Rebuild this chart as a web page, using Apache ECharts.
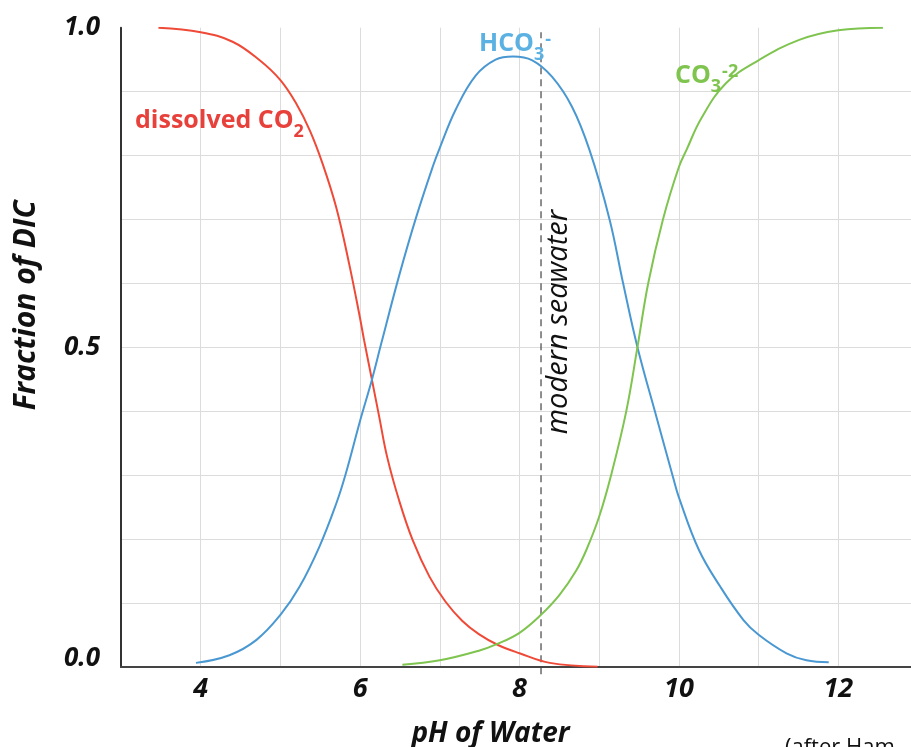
<!DOCTYPE html>
<html>
<head>
<meta charset="utf-8">
<script src="https://cdn.jsdelivr.net/npm/echarts@6/dist/echarts.min.js"></script>
<style>
html,body{margin:0;padding:0;background:#fff;overflow:hidden;}
#chart{width:911px;height:747px;}
</style>
</head>
<body>
<div id="chart"></div>
<script>
// pH values and fraction of DIC
const co2Data = [
  [3.47,1.0],[4.0,0.993],[4.4,0.978],[4.74,0.949],[5.0,0.918],[5.2,0.881],[5.37,0.839],
  [5.53,0.787],[5.7,0.719],[5.86,0.632],[6.0,0.545],[6.05,0.511],[6.15,0.448],[6.24,0.391],
  [6.34,0.328],[6.49,0.26],[6.66,0.198],[6.87,0.141],[7.07,0.102],[7.28,0.072],[7.49,0.051],
  [7.73,0.034],[8.0,0.021],[8.38,0.006],[8.98,0.0]
];
const hco3Data = [
  [3.94,0.006],[4.36,0.018],[4.7,0.042],[5.0,0.081],[5.24,0.125],[5.49,0.188],[5.7,0.255],
  [5.82,0.302],[6.0,0.385],[6.15,0.45],[6.27,0.508],[6.49,0.612],[6.7,0.702],[6.91,0.782],
  [7.0,0.812],[7.2,0.872],[7.45,0.925],[7.7,0.95],[7.92,0.955],[8.16,0.949],[8.41,0.923],
  [8.66,0.876],[8.88,0.808],[9.13,0.7],[9.3,0.6],[9.48,0.5],[9.72,0.39],[9.93,0.295],
  [10.0,0.265],[10.25,0.183],[10.52,0.125],[10.81,0.073],[11.0,0.05],
  [11.35,0.021],[11.6,0.01],[11.88,0.007]
];
const co3Data = [
  [6.53,0.003],[7.0,0.01],[7.49,0.025],[7.73,0.036],[8.0,0.053],[8.26,0.08],[8.5,0.112],
  [8.71,0.15],[8.84,0.183],[9.0,0.235],[9.15,0.3],[9.34,0.4],[9.48,0.5],[9.615,0.6],
  [9.8,0.7],[10.0,0.782],[10.1,0.81],[10.28,0.858],[10.59,0.913],[11.0,0.949],[11.51,0.981],
  [12.0,0.996],[12.56,1.0]
];
const seawaterLine = [[8.27,-0.012],[8.27,0.993]];
const xTickLabels = [4, 6, 8, 10, 12];
const yTickLabels = [0.0, 0.5, 1.0];
const xName = 'pH of Water';
const yName = 'Fraction of DIC';
const seawaterLabel = 'modern seawater';
const creditText = '(after Ham';

const FONT = '"Open Sans"';
const RED = '#ef4a38', BLUE = '#4a98d2', GREEN = '#7ec44f';
const RED_TXT = '#e8403a', BLUE_TXT = '#5cb1e3', GREEN_TXT = '#7ec44f';

const chart = echarts.init(document.getElementById('chart'));

function richStyles(color) {
  return {
    m: {fontFamily: 'Open Sans', fontWeight: 'bold', fontSize: 25, fill: color, color: color, lineHeight: 30, verticalAlign: 'top'},
    s: {fontFamily: 'Open Sans', fontWeight: 'bold', fontSize: 18, fill: color, color: color, lineHeight: 18, verticalAlign: 'top', padding: [15, 0, 0, 0]},
    p: {fontFamily: 'Open Sans', fontWeight: 'bold', fontSize: 18, fill: color, color: color, lineHeight: 18, verticalAlign: 'top', padding: [0, 0, 0, 1]}
  };
}

const option = {
  animation: false,
  backgroundColor: '#fff',
  grid: {left: 121, top: 27.7, width: 797, height: 639, containLabel: false, outerBoundsMode: 'none'},
  xAxis: [{
    type: 'value', min: 3, max: 13, interval: 1,
    name: xName, nameLocation: 'middle', nameGap: 53,
    nameTextStyle: {fontFamily: FONT, fontWeight: 'bold', fontStyle: 'italic', fontSize: 28, color: '#111', padding: [0, 58, 0, 0]},
    axisLine: {show: true, onZero: false, lineStyle: {color: '#333', width: 2}},
    axisTick: {show: false},
    splitLine: {show: true, lineStyle: {color: '#dcdcdc', width: 1}},
    axisLabel: {
      margin: 9, fontFamily: FONT, fontWeight: 'bold', fontStyle: 'italic', fontSize: 27, color: '#111',
      formatter: v => xTickLabels.indexOf(Math.round(v)) >= 0 ? String(Math.round(v)) : ''
    }
  }, {
    type: 'value', min: 3, max: 13, position: 'top',
    axisLine: {show: true, lineStyle: {color: '#444', width: 2}},
    axisTick: {show: false}, axisLabel: {show: false}, splitLine: {show: false}
  }],
  yAxis: {
    type: 'value', min: 0, max: 1, interval: 0.1,
    name: yName, nameLocation: 'middle', nameGap: 80, nameRotate: 90,
    nameTextStyle: {fontFamily: FONT, fontWeight: 'bold', fontStyle: 'italic', fontSize: 30, color: '#111', padding: [0, 0, 0, 84]},
    axisLine: {show: true, lineStyle: {color: '#333', width: 2}},
    axisTick: {show: false},
    splitLine: {show: true, showMaxLine: false, showMinLine: false, lineStyle: {color: '#dcdcdc', width: 1}},
    axisLabel: {
      margin: 21, fontFamily: FONT, fontWeight: 'bold', fontStyle: 'italic', fontSize: 26, color: '#111',
      formatter: v => {
        const r = Math.round(v * 10) / 10;
        if (!yTickLabels.some(t => Math.abs(t - r) < 1e-6)) return '';
        return r === 0 ? '{z|' + r.toFixed(1) + '}' : r.toFixed(1);
      },
      rich: {z: {fontFamily: FONT, fontWeight: 'bold', fontStyle: 'italic', fontSize: 26, color: '#111', padding: [0, 0, 16, 0]}}
    }
  },
  series: [
    {type: 'line', name: 'modern seawater', data: seawaterLine, showSymbol: false, clip: false, silent: true,
     lineStyle: {color: '#444', width: 1.2, type: [7, 5]}, z: 2},
    {type: 'line', name: 'dissolved CO2', data: co2Data, smooth: 0.4, showSymbol: false,
     lineStyle: {color: RED, width: 2}, z: 3},
    {type: 'line', name: 'HCO3-', data: hco3Data, smooth: 0.4, showSymbol: false,
     lineStyle: {color: BLUE, width: 2}, z: 3},
    {type: 'line', name: 'CO3-2', data: co3Data, smooth: 0.4, showSymbol: false,
     lineStyle: {color: GREEN, width: 2}, z: 3}
  ],
  graphic: [
    {type: 'text', left: 135, top: 108, z: 10,
     style: {text: '{m|dissolved CO}{s|2}', rich: richStyles(RED_TXT), fill: RED_TXT}},
    {type: 'text', left: 479, top: 31, z: 10,
     style: {text: '{m|HCO}{s|3}{p|-}', rich: richStyles(BLUE_TXT), fill: BLUE_TXT}},
    {type: 'text', left: 675, top: 63, z: 10,
     style: {text: '{m|CO}{s|3}{p|-2}', rich: richStyles(GREEN_TXT), fill: GREEN_TXT}},
    {type: 'text', x: 559, y: 322, rotation: Math.PI / 2, z: 10,
     style: {text: seawaterLabel, font: 'italic 29px "Open Sans"', fill: '#111',
             textAlign: 'center', textVerticalAlign: 'middle', align: 'center', verticalAlign: 'middle'}},
    {type: 'text', left: 785, top: 737, z: 10,
     style: {text: creditText, font: '22px "Open Sans"', fill: '#111'}}
  ]
};
chart.setOption(option);
</script>
</body>
</html>
